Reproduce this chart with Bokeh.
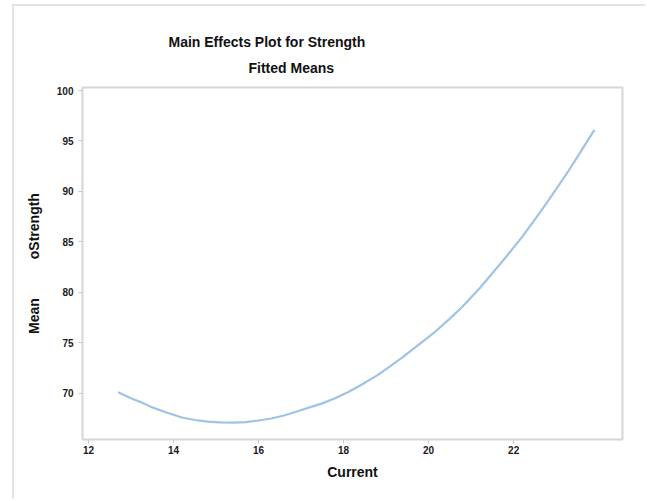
from bokeh.plotting import figure
from bokeh.models import Title, FixedTicker, Range1d
from bokeh.embed import file_html
from bokeh.resources import INLINE

# Data (fitted means of Strength vs Current)
current = [12.7, 13.0, 13.3, 13.5, 13.8, 14.2, 14.5, 14.8, 15.1, 15.4, 15.7, 16.0, 16.3, 16.6,
           16.9, 17.2, 17.5, 17.8, 18.1, 18.4, 18.8, 19.1, 19.4, 19.7, 20.1, 20.5, 20.8, 21.2,
           21.5, 21.8, 22.2, 22.6, 22.9, 23.3, 23.6, 23.9]
strength = [70.1, 69.5, 69.0, 68.6, 68.15, 67.6, 67.35, 67.2, 67.12, 67.1, 67.15, 67.3, 67.5, 67.8,
            68.2, 68.6, 69.0, 69.5, 70.1, 70.8, 71.8, 72.7, 73.6, 74.6, 75.9, 77.4, 78.6, 80.4,
            81.9, 83.4, 85.5, 87.8, 89.6, 92.1, 94.1, 96.1]
x_ticks = [12, 14, 16, 18, 20, 22]
y_ticks = [70, 75, 80, 85, 90, 95, 100]

FONT = "Liberation Sans"

p = figure(width=633, height=495, output_backend="svg", toolbar_location=None,
           x_range=Range1d(11.86, 24.56), y_range=Range1d(65.42, 100.3),
           min_border_left=68, min_border_right=25, min_border_top=81, min_border_bottom=62)
p.styles = {"margin-left": "12px", "margin-top": "4px",
            "border-left": "2px solid #e4e4e4", "border-top": "2px solid #e4e4e4"}

p.line(current, strength, line_color="#9fc3e4", line_width=2.2, line_join="round")

p.add_layout(Title(text="Fitted Means", text_font=FONT, text_font_size="14px", text_color="#111111",
                   text_font_style="bold", align="left", offset=166, standoff=24), "above")
p.add_layout(Title(text="Main Effects Plot for Strength", text_font=FONT, text_font_size="14px",
                   text_color="#111111", text_font_style="bold", align="left", offset=86,
                   standoff=-8), "above")

p.grid.visible = False
p.outline_line_color = "#d6d6d6"
p.outline_line_width = 2

for ax in (p.xaxis[0], p.yaxis[0]):
    ax.axis_line_color = None
    ax.major_tick_line_color = "#c8c8c8"
    ax.minor_tick_line_color = None
    ax.major_tick_in = 0
    ax.major_tick_out = 4
    ax.major_label_text_font = FONT
    ax.major_label_text_font_size = "10px"
    ax.major_label_text_font_style = "bold"
    ax.major_label_text_color = "#1a1a1a"
    ax.axis_label_text_font = FONT
    ax.axis_label_text_font_style = "bold"
    ax.axis_label_text_color = "#111111"

p.xaxis.ticker = FixedTicker(ticks=x_ticks)
p.yaxis.ticker = FixedTicker(ticks=y_ticks)
p.xaxis.axis_label = "Current"
p.xaxis.axis_label_text_font_size = "14px"
p.xaxis.axis_label_standoff = 7
p.xaxis.major_label_standoff = 2
p.yaxis.axis_label = "Mean" + "\u00a0" * 10 + "oStrength"
p.yaxis.axis_label_text_font_size = "14px"
p.yaxis.axis_label_standoff = 12
p.yaxis.major_label_standoff = 5

open("out.html", "w").write(file_html(p, INLINE))
